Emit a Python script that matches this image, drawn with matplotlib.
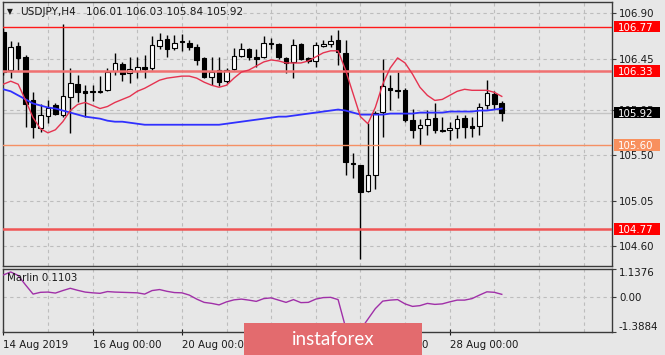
import matplotlib
matplotlib.use("Agg")
import matplotlib.pyplot as plt
import matplotlib.transforms as mtransforms
from matplotlib.patches import Rectangle

# ---------------- data ----------------
symbol = "USDJPY,H4"
opens = [106.72, 106.34, 106.58, 106.47, 106.04, 105.77, 105.89, 105.99, 105.90, 106.07,
         106.20, 106.13, 106.13, 106.12, 106.14, 106.33, 106.40, 106.31, 106.33, 106.37,
         106.36, 106.58, 106.65, 106.56, 106.63, 106.61, 106.57, 106.46, 106.27, 106.34,
         106.23, 106.35, 106.48, 106.55, 106.47, 106.47, 106.61, 106.60, 106.46, 106.42,
         106.60, 106.46, 106.43, 106.58, 106.60, 106.64, 106.51, 105.42, 105.40, 105.15,
         105.30, 105.93, 106.16, 106.14, 106.14, 105.85, 105.77, 105.80, 105.87, 105.75,
         105.75, 105.77, 105.87, 105.79, 105.79, 105.99, 106.10, 106.01]
highs = [106.76, 106.63, 106.62, 106.49, 106.12, 106.00, 106.04, 106.01, 106.79, 106.36,
         106.29, 106.19, 106.19, 106.28, 106.36, 106.51, 106.42, 106.47, 106.47, 106.49,
         106.68, 106.71, 106.69, 106.69, 106.70, 106.64, 106.60, 106.47, 106.47, 106.47,
         106.36, 106.56, 106.61, 106.56, 106.55, 106.68, 106.66, 106.61, 106.47, 106.65,
         106.61, 106.47, 106.62, 106.64, 106.69, 106.74, 106.64, 105.52, 105.40, 105.82,
         105.94, 106.45, 106.29, 106.32, 106.16, 105.96, 105.86, 105.95, 106.01, 105.88,
         105.83, 105.90, 105.90, 105.88, 106.01, 106.24, 106.13, 106.03]
lows = [106.29, 106.26, 106.34, 105.78, 105.67, 105.73, 105.82, 105.90, 105.88, 105.72,
        106.02, 105.88, 106.03, 106.11, 106.13, 106.29, 106.23, 106.21, 106.26, 106.26,
        106.34, 106.55, 106.47, 106.54, 106.53, 106.54, 106.39, 106.26, 106.19, 106.18,
        106.21, 106.34, 106.47, 106.44, 106.37, 106.46, 106.55, 106.45, 106.31, 106.26,
        106.44, 106.41, 106.37, 106.57, 106.57, 106.39, 105.30, 105.27, 104.47, 105.14,
        105.17, 105.68, 105.95, 106.06, 105.83, 105.67, 105.60, 105.70, 105.72, 105.73,
        105.65, 105.67, 105.67, 105.68, 105.70, 105.96, 105.96, 105.84]
closes = [106.32, 106.57, 106.46, 106.00, 105.78, 105.90, 105.97, 105.91, 106.08, 106.21,
          106.12, 106.11, 106.12, 106.13, 106.32, 106.41, 106.30, 106.35, 106.37, 106.35,
          106.59, 106.64, 106.55, 106.61, 106.62, 106.57, 106.44, 106.27, 106.32, 106.22,
          106.34, 106.48, 106.55, 106.47, 106.45, 106.61, 106.60, 106.47, 106.41, 106.59,
          106.45, 106.43, 106.59, 106.60, 106.63, 106.52, 105.43, 105.41, 105.14, 105.30,
          105.92, 106.18, 106.14, 106.13, 105.85, 105.75, 105.80, 105.86, 105.75, 105.74,
          105.77, 105.86, 105.78, 105.77, 105.98, 106.11, 106.00, 105.92]
ma_fast = [106.20, 106.23, 106.20, 106.04, 105.87, 105.76, 105.72, 105.75, 105.83, 105.94,
           106.00, 106.02, 105.99, 105.96, 105.98, 106.02, 106.05, 106.08, 106.13, 106.16,
           106.20, 106.24, 106.26, 106.27, 106.28, 106.28, 106.26, 106.22, 106.19, 106.17,
           106.19, 106.26, 106.32, 106.34, 106.38, 106.42, 106.44, 106.43, 106.41, 106.41,
           106.41, 106.43, 106.47, 106.51, 106.53, 106.53, 106.34, 106.11, 105.88, 105.81,
           105.97, 106.20, 106.36, 106.46, 106.41, 106.30, 106.17, 106.09, 106.04, 106.05,
           106.09, 106.13, 106.15, 106.14, 106.14, 106.14, 106.12, 106.08]
ma_slow = [106.15, 106.13, 106.09, 106.05, 106.01, 105.99, 105.97, 105.96, 105.94, 105.92,
           105.90, 105.88, 105.87, 105.86, 105.84, 105.83, 105.83, 105.82, 105.81, 105.80,
           105.80, 105.80, 105.80, 105.80, 105.80, 105.80, 105.80, 105.80, 105.80, 105.80,
           105.81, 105.82, 105.83, 105.84, 105.85, 105.86, 105.87, 105.88, 105.88, 105.89,
           105.90, 105.91, 105.92, 105.93, 105.94, 105.95, 105.94, 105.92, 105.90, 105.90,
           105.90, 105.90, 105.91, 105.91, 105.91, 105.91, 105.92, 105.92, 105.92, 105.92,
           105.93, 105.93, 105.93, 105.93, 105.94, 105.94, 105.95, 105.96]
marlin = [0.88, 1.00, 0.86, 0.48, 0.12, 0.19, 0.20, 0.16, 0.26, 0.35,
          0.27, 0.20, 0.17, 0.15, 0.22, 0.20, 0.19, 0.18, 0.17, 0.12,
          0.26, 0.30, 0.23, 0.18, 0.17, 0.08, -0.08, -0.21, -0.25, -0.31,
          -0.19, -0.11, -0.08, -0.12, -0.17, -0.06, -0.03, -0.12, -0.21, -0.10,
          -0.22, -0.21, -0.08, -0.02, -0.01, -0.10, -1.20, -1.3884, -1.30, -0.88,
          -0.46, -0.16, -0.12, -0.10, -0.27, -0.37, -0.34, -0.25, -0.29, -0.27,
          -0.19, -0.12, -0.12, -0.06, 0.08, 0.21, 0.19, 0.1103]

levels = [106.77, 106.33, 105.60, 104.77]
level_line_colors = ['#FF1A1A', '#F07070', '#F59064', '#F05555']
level_line_widths = [1.0, 1.8, 1.0, 1.8]
level_box_colors = ['#FF0000', '#FF0000', '#F8905E', '#FF0000']

price_ticks = [106.90, 106.45, 105.95, 105.50, 105.05, 104.60]
price_tick_labels = ["106.90", "106.45", "105.95", "105.50", "105.05", "104.60"]
time_tick_bars = [0, 12, 24, 36, 48, 60]
time_tick_labels = ["14 Aug 2019", "16 Aug 00:00", "20 Aug 00:00",
                    "22 Aug 00:00", "26 Aug 00:00", "28 Aug 00:00"]
osc_ticks = [1.1376, 0.0, -1.3884]
osc_tick_labels = ["1.1376", "0.00", "-1.3884"]
osc_name = "Marlin"
brand = "instaforex"

# ---------------- layout ----------------
W, H = 665, 355
BG = '#E7E7E7'
FS = 7.4

def fx(px):
    return px / W

def fy(py):
    return 1 - py / H

fig = plt.figure(figsize=(W / 100, H / 100), dpi=100, facecolor=BG)
L, R = 3, 612
ax = fig.add_axes([fx(L), fy(266), fx(R) - fx(L), fy(2) - fy(266)], facecolor=BG)
ax2 = fig.add_axes([fx(L), fy(332), fx(R) - fx(L), fy(268.5) - fy(332)], facecolor=BG)

bar_px = 7.44
first_px = 3.3
xlim = ((L - first_px) / bar_px, (R - first_px) / bar_px)
ymin, ymax = 104.405, 107.012

n = len(closes)
xs = list(range(n))

for a in (ax, ax2):
    a.set_xlim(*xlim)
    for s in a.spines.values():
        s.set_color('#3A3A3A')
        s.set_linewidth(1.0)
    for g in range(6, 84, 6):
        a.axvline(g, color='#BDBDBD', lw=0.8, ls=(0, (3, 3)), zorder=0.5)

ax.set_ylim(ymin, ymax)
ax2.set_ylim(osc_ticks[-1], osc_ticks[0])

# grid (horizontal)
for t in price_ticks:
    ax.axhline(t, color='#BDBDBD', lw=0.8, ls=(0, (3, 3)), zorder=0.5)
ax2.axhline(0, color='#BDBDBD', lw=0.8, ls=(0, (3, 3)), zorder=0.5)

# current price line
ax.axhline(closes[-1], color='#C4C4C4', lw=1.0, zorder=0.8)

# candles
bodies_bottom = [min(o, c) for o, c in zip(opens, closes)]
bodies_h = [abs(c - o) for o, c in zip(opens, closes)]
faces = ['white' if c > o else 'black' for o, c in zip(opens, closes)]
ax.vlines(xs, lows, highs, color='black', lw=1.0, zorder=3)
ax.bar(xs, bodies_h, bottom=bodies_bottom, width=0.62, color=faces,
       edgecolor='black', linewidth=0.8, zorder=4)

# level lines
for lv, lc, lw in zip(levels, level_line_colors, level_line_widths):
    ax.axhline(lv, color=lc, lw=lw, zorder=4.5)

# moving averages
ax.plot(xs, ma_slow, color='#3030FF', lw=1.3, zorder=5)
ax.plot(xs, ma_fast, color='#E53350', lw=1.0, zorder=5.1)

# y axis right
ax.yaxis.tick_right()
ax.set_yticks(price_ticks)
ax.set_yticklabels(price_tick_labels)
ax.tick_params(axis='y', direction='out', length=3, pad=2, labelsize=FS,
               color='#3A3A3A', labelcolor='#1A1A1A')
ax.tick_params(axis='x', bottom=False, labelbottom=False)

# price label boxes
trans = mtransforms.blended_transform_factory(ax.transAxes, ax.transData)
px_per_unit = (266 - 2) / (ymax - ymin)
box_h = 11.5 / px_per_unit
box_x0 = (614 - L) / (R - L)
box_w = 46 / (R - L)
txt_x = (617.5 - L) / (R - L)
box_items = list(zip(levels, level_box_colors)) + [(closes[-1], 'black')]
for lv, bc in box_items:
    ax.add_patch(Rectangle((box_x0, lv - box_h / 2), box_w, box_h, transform=trans,
                           facecolor=bc, edgecolor='none', clip_on=False, zorder=6))
    ax.text(txt_x, lv, f"{lv:.2f}", transform=trans, color='white', fontsize=FS,
            va='center_baseline', ha='left', zorder=7, clip_on=False)

# title
fig.text(fx(7), fy(12), "\u25BC", fontsize=5.5, va='center', ha='left', color='#1A1A1A')
fig.text(fx(20), fy(12), symbol, fontsize=7.6, va='center', ha='left', color='#1A1A1A')
fig.text(fx(86), fy(12), f"{opens[-1]:.2f} {highs[-1]:.2f} {lows[-1]:.2f} {closes[-1]:.2f}",
         fontsize=7.6, va='center', ha='left', color='#1A1A1A')

# oscillator
ax2.plot(xs, marlin, color='#A030A8', lw=1.0, zorder=3)
ax2.yaxis.tick_right()
ax2.set_yticks(osc_ticks)
ax2.set_yticklabels(osc_tick_labels)
ax2.tick_params(axis='y', direction='out', length=3, pad=2, labelsize=FS,
                color='#3A3A3A', labelcolor='#1A1A1A')
lbls = ax2.get_yticklabels()
lbls[0].set_va('top')
lbls[-1].set_va('bottom')
fig.text(fx(7), fy(278), f"{osc_name} {marlin[-1]:.4f}", fontsize=FS, va='center',
         ha='left', color='#1A1A1A')

ax2.set_xticks(time_tick_bars)
ax2.set_xticklabels(time_tick_labels)
ax2.tick_params(axis='x', direction='inout', length=5, pad=3, labelsize=FS,
                color='#1A1A1A', labelcolor='#1A1A1A')
for t in ax2.get_xticklabels():
    t.set_ha('left')

# brand box
fig.patches.append(Rectangle((fx(244), 0), fx(422) - fx(244), fy(323), transform=fig.transFigure,
                             facecolor='#E36B6E', edgecolor='none', zorder=10))
fig.text(fx(333), fy(339.5), brand, color='white', fontsize=13.5, family='Lato',
         ha='center', va='center', zorder=11)

fig.savefig("out.png", dpi=100, facecolor=BG)
